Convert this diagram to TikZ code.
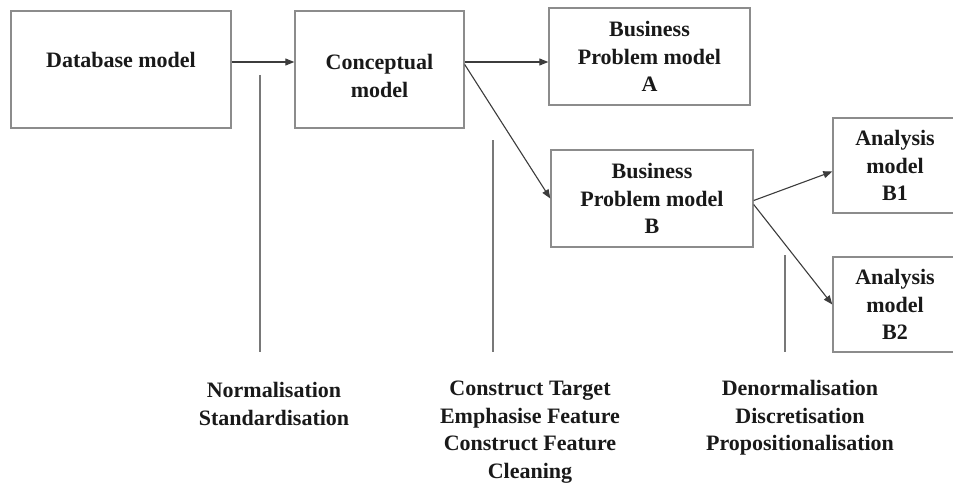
\documentclass[tikz,border=0pt]{standalone}
\usepackage{fontspec}
\setmainfont{Liberation Serif}
\usetikzlibrary{arrows.meta}

\definecolor{boxgray}{RGB}{140,140,140}
\definecolor{linegray}{RGB}{60,60,60}
\definecolor{stemgray}{RGB}{120,120,120}

\tikzset{
  box/.style={draw=boxgray,line width=1.4pt,inner sep=0pt},
  txt/.style={align=center,inner sep=0pt,text=black!90,
    font=\fontsize{22}{27.5}\selectfont\bfseries},
  arr/.style={draw=linegray,line width=1.1pt,-{Triangle[length=9pt,width=7pt]}},
  stem/.style={draw=stemgray,line width=1.3pt}
}

\begin{document}
\begin{tikzpicture}[x=1pt,y=-1pt]
  \useasboundingbox (0,0) rectangle (953,487);
  % model boxes
  \node[box,minimum width=220pt,minimum height=117pt] (db) at (121,69.5) {};
  \node[box,minimum width=169pt,minimum height=117pt] (con) at (379.5,69.5) {};
  \node[box,minimum width=201pt,minimum height=97pt,txt] (pa) at (649.5,56.5)
    {Business\\Problem model\\A};
  \node[box,minimum width=202pt,minimum height=97pt,txt] (pb) at (652,198.5)
    {Business\\Problem model\\B};
  \node[box,minimum width=124pt,minimum height=95pt,txt] (ab1) at (895,165.5)
    {Analysis\\model\\B1};
  \node[box,minimum width=124pt,minimum height=95pt,txt] (ab2) at (895,304.5)
    {Analysis\\model\\B2};
  \node[txt] (dbtxt) at (121,60) {Database model};
  \node[txt] (contxt) at (379.5,76) {Conceptual\\model};
  % transformation labels
  \node[txt] (norm) at (274,404) {Normalisation\\Standardisation};
  \node[txt] (cons) at (530,432) {Construct Target\\Emphasise Feature\\Construct Feature\\Cleaning};
  \node[txt] (denorm) at (800,418) {Denormalisation\\Discretisation\\Propositionalisation};
  % stems
  \coordinate (s1) at (260,75);
  \coordinate (s2) at (493,140);
  \coordinate (s3) at (785,255);
  \draw[stem] (s1) -- (s1 |- 0,352);
  \draw[stem] (s2) -- (s2 |- 0,352);
  \draw[stem] (s3) -- (s3 |- 0,352);
  % arrows
  \draw[arr] ([yshift=7.5pt]db.east) -- ([yshift=7.5pt]con.west);
  \draw[arr] ([yshift=7.5pt]con.east) -- ([yshift=-5.5pt]pa.west);
  \draw[arr] ([yshift=5pt]con.east) -- (pb.west);
  \draw[arr] ([yshift=-2pt]pb.east) -- ([yshift=-6pt]ab1.west);
  \draw[arr] ([yshift=-6pt]pb.east) -- (ab2.west);
\end{tikzpicture}
\end{document}
